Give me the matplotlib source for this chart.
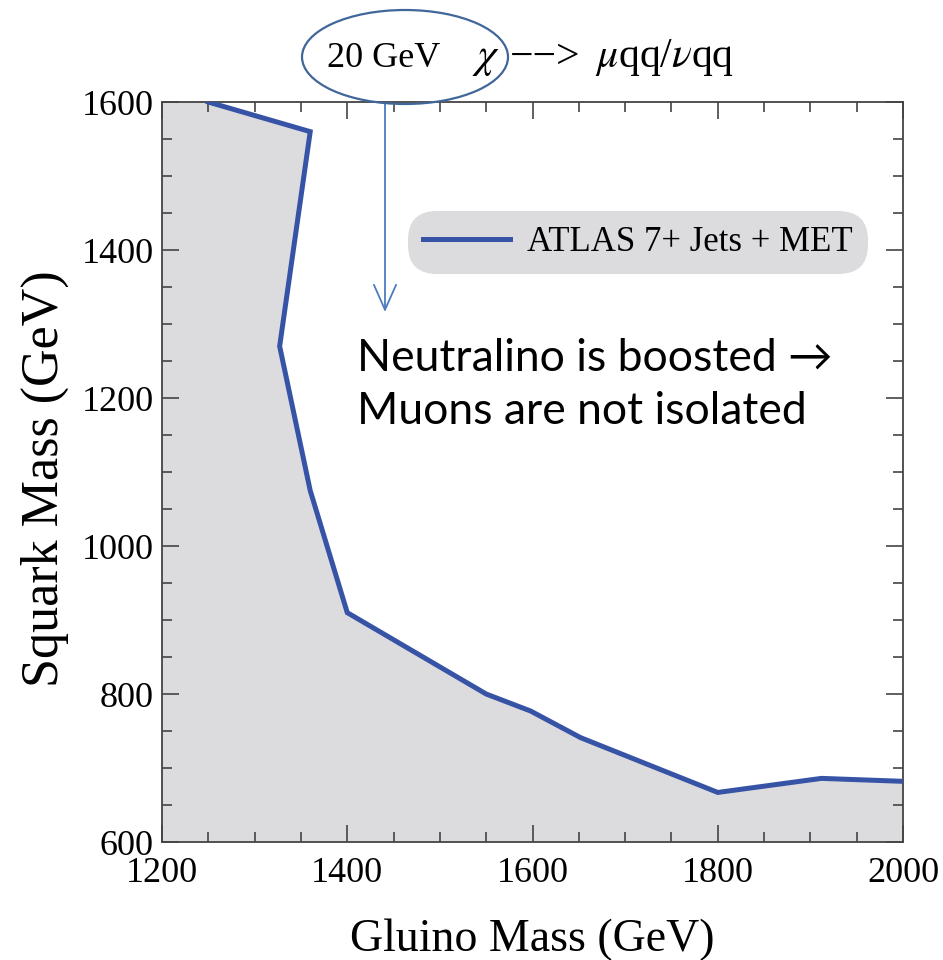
import matplotlib
matplotlib.use("Agg")
import matplotlib.pyplot as plt
from matplotlib.patches import Ellipse
from matplotlib.ticker import MultipleLocator

plt.rcParams["mathtext.fontset"] = "stix"

# ATLAS 7+ jets + MET exclusion contour
gluino = [1250, 1360, 1327, 1360, 1400, 1550, 1598, 1652, 1800, 1912, 2000]
squark = [1600, 1560, 1270, 1075, 910, 800, 777, 741, 667, 686, 682]
curve_label = "ATLAS 7+ Jets + MET"

xmin, xmax = 1200, 2000
ymin, ymax = 600, 1600

W, H = 943, 960
fig = plt.figure(figsize=(W / 100, H / 100), dpi=100)
ax = fig.add_axes([0.1718, 0.1229, 0.7858, 0.7708])


def fpx(x, y):
    # pixel position (from top-left) -> figure fraction
    return x / W, 1 - y / H


# excluded region: left/bottom of the contour
px = [xmin] + gluino + [xmax, xmin]
py = [ymax] + squark + [ymin, ymin]
ax.fill(px, py, color="#dcdcdf", lw=0, zorder=1)
ax.plot(gluino, squark, color="#3753a6", lw=3.6, solid_joinstyle="miter",
        label=curve_label, zorder=3)

ax.set_xlim(xmin, xmax)
ax.set_ylim(ymin, ymax)
ax.xaxis.set_major_locator(MultipleLocator(200))
ax.xaxis.set_minor_locator(MultipleLocator(50))
ax.yaxis.set_major_locator(MultipleLocator(200))
ax.yaxis.set_minor_locator(MultipleLocator(50))
ax.tick_params(which="both", direction="in", top=True, right=True,
               color="#444444", width=1.2)
ax.tick_params(which="major", length=12, labelsize=26)
ax.tick_params(which="minor", length=7)
ax.tick_params(axis="x", which="major", pad=11)
ax.tick_params(axis="y", which="major", pad=6)
for lab in ax.get_xticklabels() + ax.get_yticklabels():
    lab.set_family("Liberation Serif")
for s in ax.spines.values():
    s.set_color("#444444")
    s.set_linewidth(1.3)

ax.set_xlabel("Gluino Mass (GeV)", family="Liberation Serif", fontsize=33,
              labelpad=20)
ax.set_ylabel("Squark Mass (GeV)", family="Liberation Serif", fontsize=37.5)
ax.yaxis.set_label_coords(-0.1255, 0.4905)

leg = ax.legend(loc="center", bbox_to_anchor=(0.642, 0.810),
                prop={"family": "Liberation Serif", "size": 25},
                handlelength=2.5, handletextpad=0.5, borderpad=0.12,
                fancybox=True, framealpha=1)
fr = leg.get_frame()
fr.set_facecolor("#dcdcdf")
fr.set_edgecolor("none")
fr.set_boxstyle("round", pad=0.32, rounding_size=0.85)

# decay-channel header with circled mass
serif = "Liberation Serif"
fig.text(*fpx(327, 67), "20 GeV", family=serif, fontsize=26,
         va="baseline", ha="left")
fig.text(*fpx(472, 67), r"$\chi$", fontsize=31, va="baseline", ha="left")
fig.text(*fpx(510, 68), "\u2212\u2212>", family=serif, fontsize=30,
         va="baseline", ha="left")
fig.text(*fpx(595, 67), r"$\mu$qq/$\nu$qq", family=serif, fontsize=30,
         va="baseline", ha="left")
fig.patches.append(Ellipse(fpx(405, 57), 206 / W, 94 / H,
                           transform=fig.transFigure, fill=False,
                           edgecolor="#41679a", lw=1.6))
ax.annotate("", xy=fpx(385, 312), xytext=fpx(385, 103),
            xycoords="figure fraction", textcoords="figure fraction",
            arrowprops=dict(arrowstyle="->,head_length=1.8,head_width=0.8",
                            color="#4a7cc0", lw=1.3, shrinkA=0, shrinkB=0))

fig.text(*fpx(357, 385),
         "Neutralino is boosted \u2192\nMuons are not isolated",
         family=["Lato", "DejaVu Sans"], fontsize=32, va="center", ha="left",
         linespacing=1.38)

fig.savefig("out.png", dpi=100)
